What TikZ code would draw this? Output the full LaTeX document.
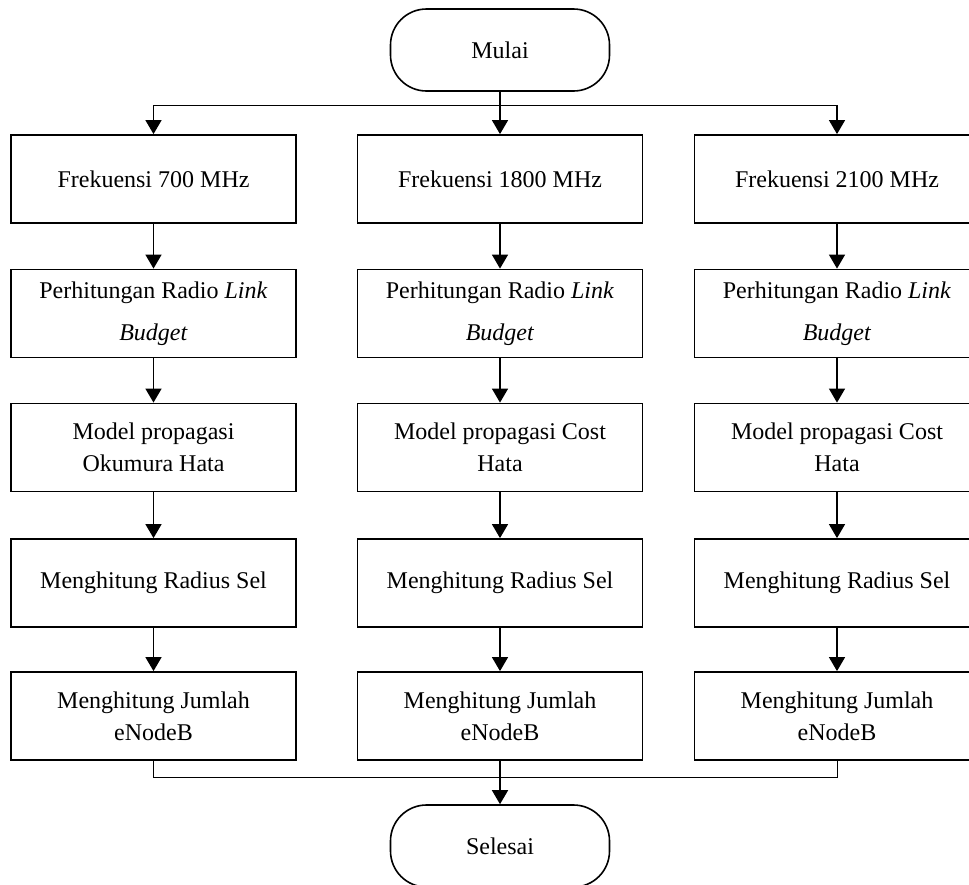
\documentclass[tikz,border=0pt]{standalone}
\usepackage{fontspec}
\setmainfont{Liberation Serif}
\usetikzlibrary{arrows.meta}
\tikzset{mybox/.style={draw,line width=0.9pt,minimum width=142.5pt,minimum height=44pt,inner sep=0pt,align=center,font=\fontsize{12pt}{16pt}\selectfont},
myterm/.style={draw,line width=0.8pt,rounded corners=18pt,minimum width=109.5pt,minimum height=41pt,inner sep=0pt,font=\fontsize{12pt}{16pt}\selectfont},
myarrow/.style={line width=0.7pt,-{Triangle[length=7pt,width=8pt]}},
myline/.style={line width=0.5pt}}

\begin{document}
\begin{tikzpicture}[x=0.5pt,y=-0.5pt]
\useasboundingbox (0,0) rectangle (969,884);
\node[myterm] (mulai) at (500,50) {Mulai};
% kolom 700 MHz
\node[mybox] (f1) at (153.5,179) {Frekuensi 700 MHz};
\node[mybox] (r1) at (153.5,313.5) {Perhitungan Radio \textit{Link}\\[5pt]\textit{Budget}};
\node[mybox] (m1) at (153.5,447.5) {Model propagasi\\Okumura Hata};
\node[mybox] (s1) at (153.5,583) {Menghitung Radius Sel};
\node[mybox] (j1) at (153.5,716) {Menghitung Jumlah\\eNodeB};
% kolom 1800 MHz
\node[mybox] (f2) at (500,179) {Frekuensi 1800 MHz};
\node[mybox] (r2) at (500,313.5) {Perhitungan Radio \textit{Link}\\[5pt]\textit{Budget}};
\node[mybox] (m2) at (500,447.5) {Model propagasi Cost\\Hata};
\node[mybox] (s2) at (500,583) {Menghitung Radius Sel};
\node[mybox] (j2) at (500,716) {Menghitung Jumlah\\eNodeB};
% kolom 2100 MHz
\node[mybox] (f3) at (837,179) {Frekuensi 2100 MHz};
\node[mybox] (r3) at (837,313.5) {Perhitungan Radio \textit{Link}\\[5pt]\textit{Budget}};
\node[mybox] (m3) at (837,447.5) {Model propagasi Cost\\Hata};
\node[mybox] (s3) at (837,583) {Menghitung Radius Sel};
\node[mybox] (j3) at (837,716) {Menghitung Jumlah\\eNodeB};
\node[myterm] (selesai) at (500,846) {Selesai};
\coordinate (split) at (500,105);
\coordinate (join) at (500,777);
\draw[myline] (f1.north |- split) -- (f3.north |- split);
\draw[myarrow] (f1.north |- split) -- (f1);
\draw[myarrow] (f3.north |- split) -- (f3);
\draw[myarrow] (mulai) -- (f2);
\foreach \c in {1,2,3}{
  \draw[myarrow] (f\c) -- (r\c);
  \draw[myarrow] (r\c) -- (m\c);
  \draw[myarrow] (m\c) -- (s\c);
  \draw[myarrow] (s\c) -- (j\c);
}
\draw[myline] (j1.south) -- (j1.south |- join) -- (j3.south |- join) -- (j3.south);
\draw[myarrow] (j2) -- (selesai);
\end{tikzpicture}
\end{document}
